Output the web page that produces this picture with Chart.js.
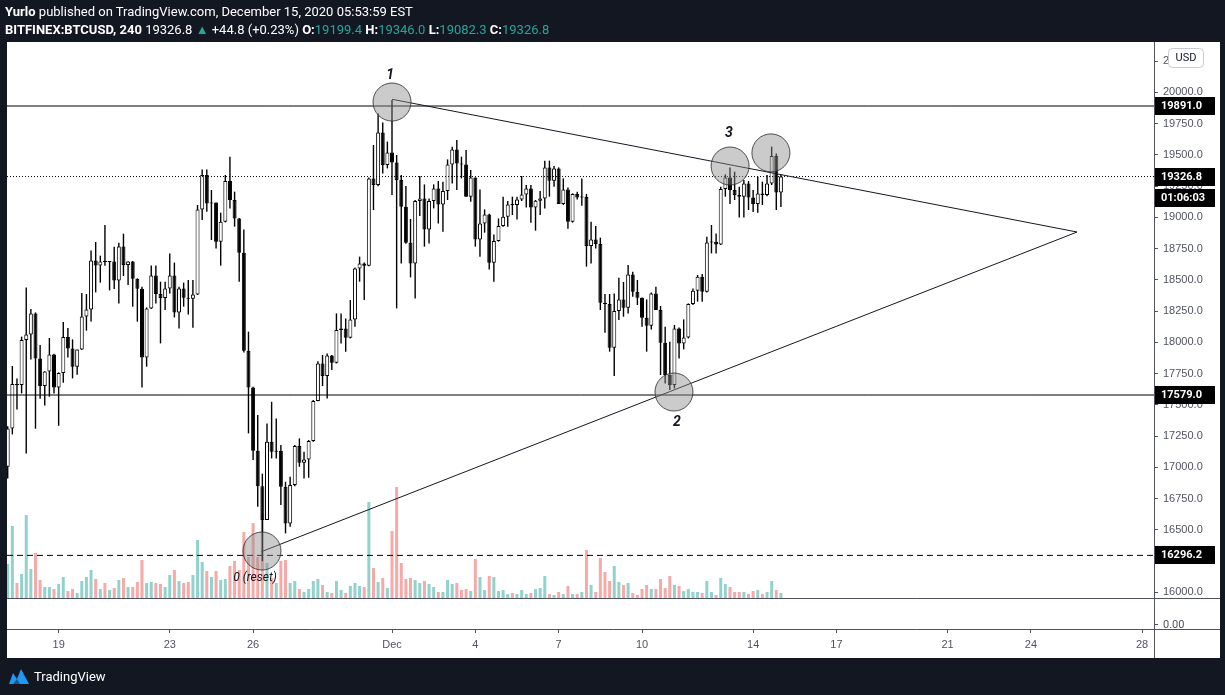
<!DOCTYPE html>
<html>
<head>
<meta charset="utf-8">
<script src="https://cdn.jsdelivr.net/npm/chart.js@4.4.0/dist/chart.umd.min.js"></script>
<style>
  html, body { margin: 0; padding: 0; background: #131722; }
  #wrap { position: relative; width: 1225px; height: 695px; overflow: hidden; }
  #hdr { position: absolute; left: 5px; top: 3px; color: #fff; font: 13px Roboto, sans-serif; line-height: 18px; white-space: nowrap; }
  #hdr .t { color: #26a69a; }
  #ftr { position: absolute; left: 8px; top: 667px; color: #fff; font: 13px Roboto, sans-serif; display: flex; align-items: center; gap: 4px; }
  canvas { position: absolute; left: 0; top: 0; }
</style>
</head>
<body>
<div id="wrap">
  <canvas id="c" width="1225" height="695"></canvas>
  <div id="hdr">
    <div><b>Yurlo</b> published on TradingView.com, December 15, 2020 05:53:59 EST</div>
    <div><b>BITFINEX:BTCUSD, 240</b> 19326.8 <span class="t">&#9650;</span> +44.8 (+0.23%) <b>O:</b><span class="t">19199.4</span> <b>H:</b><span class="t">19346.0</span> <b>L:</b><span class="t">19082.3</span> <b>C:</b><span class="t">19326.8</span></div>
  </div>
  <div id="ftr">
    <svg width="22" height="18" viewBox="0 0 22 18"><path d="M1 17 L5 6 L9 12 L13 2 L21 17 Z" fill="#2196f3"/><path d="M5 17 L9 12 L12 17 Z" fill="#131722" opacity="0.5"/></svg>
    <span>TradingView</span>
  </div>
</div>
<script>
// BITFINEX:BTCUSD 4h candles, Nov 17 - Dec 15 2020 (days counted from Nov 1)
const lastBarDay = 44;   // Dec 15 00:00
const barsPerDay = 6;

const opens = [17006,17312,17667,17660,18019,18064,18232,17872,17651,17768,
  17904,17640,17755,18043,17952,17806,17944,18208,18264,18656,
  18616,18648,18644,18648,18496,18768,18619,18648,18510,18430,
  17880,18272,18536,18387,18355,18432,18536,18240,18432,18358,
  18350,18384,19064,19339,19112,19120,18806,18966,19291,19139,
  18992,18718,17934,17640,17133,16850,16579,17206,17126,17131,
  16845,16552,16859,17171,17038,17064,17211,17531,17832,17731,
  17896,17838,18099,18112,18038,18184,18592,18632,18614,19312,
  19259,19680,19419,19520,19440,19299,19086,18798,18632,19131,
  19152,18904,19131,19232,19104,19211,19424,19544,19432,19424,
  19166,19320,18824,18952,19024,18638,18811,18931,19006,19104,
  19099,19144,19184,19232,19080,19134,19152,19400,19293,19392,
  19107,19224,18966,19187,19160,19164,18771,18824,18787,18318,
  18307,17958,18251,18344,18278,18544,18406,18358,18198,18134,
  18392,18260,17998,17739,17659,18112,17992,18040,18307,18414,
  18526,18406,18800,18806,18784,19227,19320,19219,19179,19166,
  19272,19160,19107,19192,19179,19272,19491,19199.4];
const highs = [17330,17811,17712,18046,18440,18267,18240,17979,17770,18035,
  17910,17760,18163,18115,18024,17944,18395,18387,18736,18803,
  18694,18939,18648,18766,18798,18870,18650,18652,18512,18446,
  18280,18616,18616,18486,18486,18712,18638,18446,18478,18499,
  18499,19099,19384,19384,19219,19120,19038,19339,19486,19206,
  18995,18904,18086,17645,17419,16950,17352,17525,17392,17179,
  16885,16925,17180,17232,17125,17219,17540,17850,17899,17912,
  17899,18232,18232,18192,18339,18600,18686,18640,19320,19579,
  19832,19760,19606,19939,19499,19339,19251,18987,19140,19331,
  19264,19152,19264,19291,19286,19464,19566,19619,19486,19539,
  19379,19320,19224,19064,19030,18864,18992,19166,19131,19166,
  19166,19331,19259,19259,19139,19211,19454,19454,19411,19400,
  19312,19240,19192,19206,19312,19187,18966,18931,18838,18387,
  18387,18392,18518,18483,18619,18566,18499,18360,18344,18400,
  18446,18291,18126,18006,18139,18120,18184,18312,18432,18539,
  18547,18846,18939,18872,19246,19344,19400,19366,19246,19299,
  19291,19219,19326,19286,19339,19566,19512,19346.0];
const lows = [16912,17264,17464,17592,17112,17864,17309,17549,17496,17566,
  17592,17333,17678,17880,17712,17742,17940,18094,18168,18400,
  18478,18614,18416,18427,18312,18531,18459,18286,18166,17640,
  17806,18268,18312,17992,18259,18392,18200,18112,18286,18224,
  18118,18380,18979,19046,18819,18752,18614,18960,19072,18926,
  18486,17920,17272,17059,16686,16250,16579,17072,17072,16699,
  16472,16525,16850,17005,16912,16917,17206,17530,17651,17552,
  17779,17832,17992,17926,18032,18126,18486,18339,18610,19059,
  19250,19352,19392,19179,18272,18632,18790,18520,18352,19011,
  18766,18792,19072,18952,18886,19139,19272,19219,19312,19166,
  19126,18766,18686,18878,18584,18486,18806,18926,18926,19019,
  18984,19131,19080,18958,18894,19019,19072,19166,19246,19107,
  19100,18910,18958,19144,19094,18606,18632,18752,18259,18078,
  17926,17731,18179,18206,18232,18366,18299,18126,17926,18104,
  18259,17739,17672,17619,17632,17872,17944,18032,18299,18326,
  18326,18400,18712,18712,18780,19166,19107,19139,19000,19000,
  19059,19043,19038,19099,19170,19259,19059,19082.3];
const closes = [17312,17667,17660,18019,18064,18232,17872,17651,17768,17904,
  17640,17755,18043,17952,17806,17944,18208,18264,18656,18616,
  18648,18644,18648,18496,18768,18619,18648,18510,18430,17880,
  18272,18536,18387,18355,18432,18536,18240,18432,18358,18350,
  18384,19064,19339,19112,19120,18806,18966,19291,19139,18992,
  18718,17934,17640,17133,16850,16579,17206,17126,17131,16845,
  16552,16859,17171,17038,17064,17211,17531,17832,17731,17896,
  17838,18099,18112,18038,18184,18592,18632,18614,19312,19259,
  19680,19419,19520,19440,19299,19086,18798,18632,19131,19152,
  18904,19131,19232,19104,19211,19424,19544,19432,19424,19166,
  19320,18824,18952,19024,18638,18811,18931,19006,19104,19099,
  19144,19184,19232,19080,19134,19152,19400,19293,19392,19107,
  19224,18966,19187,19160,19164,18771,18824,18787,18318,18307,
  17958,18251,18344,18278,18544,18406,18358,18198,18134,18392,
  18260,17998,17739,17659,18112,17992,18040,18307,18414,18526,
  18406,18800,18806,18784,19227,19320,19219,19179,19166,19272,
  19160,19107,19192,19179,19272,19491,19199.4,19326.8];
// volume, relative units
const volumes = [34,72,15,24,83,29,45,18,11,11,
  9,14,21,7,9,5,17,21,28,19,
  9,15,8,10,18,20,11,11,16,38,
  15,16,15,14,11,23,28,17,15,16,
  23,58,36,27,21,27,18,19,32,37,
  28,66,41,75,41,85,35,20,15,37,
  38,15,17,9,6,9,17,19,13,6,
  5,17,8,5,12,15,12,11,96,30,
  16,20,10,67,111,35,19,20,18,15,
  17,14,11,6,6,18,14,15,8,9,
  7,39,21,8,22,21,7,8,4,5,
  4,8,4,5,9,10,22,4,3,6,
  4,12,4,4,6,48,13,6,40,26,
  17,32,16,13,15,5,3,9,13,9,
  9,19,10,22,13,12,7,9,6,6,
  5,17,6,3,20,14,11,6,6,6,
  4,7,8,4,6,17,8,5];

// axis ticks
const tickDays = [18, 22, 25, 30, 33, 36, 39, 43, 46, 50, 53, 57];
const tickLabels = ['19', '23', '26', 'Dec', '4', '7', '10', '14', '17', '21', '24', '28'];
const priceTicks = [16000,16250,16500,16750,17000,17250,17500,17750,18000,18250,18500,18750,19000,19250,19500,19750,20000,20250];

// drawings
const levelHigh = 19891.0;
const levelLow = 17579.0;
const levelReset = 16296.2;
const lastPrice = 19326.8;
const countdown = '01:06:03';
const upperDays = [30.0, 54.66], upperPrices = [19945, 18883];
const lowerDays = [25.3, 54.66], lowerPrices = [16326, 18883];
const circleDays = [25.32, 30.0, 40.15, 42.17, 43.64];
const circlePrices = [16331, 19923, 17603, 19411, 19516];
const noteText = ['1', '3', '2', '0 (reset)'];
const noteDays = [29.93, 42.13, 40.26, 25.07];
const notePrices = [20139, 19675, 17363, 16115];

const xMin = 16.141, xMax = 57.43;
const times = opens.map((_, i) => lastBarDay - (opens.length - 1 - i) / barsPerDay);
const isUp = opens.map((o, i) => closes[i] >= o);

const pts = (ds, ps) => ds.map((d, i) => ({ x: d, y: ps[i] }));
const hline = (p) => [{ x: xMin, y: p }, { x: xMax, y: p }];

const frame = {
  id: 'frame',
  beforeDraw(chart) {
    const c = chart.ctx;
    c.save();
    c.fillStyle = '#ffffff';
    c.fillRect(7, 42, 1213, 616);
    c.restore();
  },
  afterDraw(chart) {
    const c = chart.ctx;
    const { x, y, yv } = chart.scales;
    const a = chart.chartArea;
    c.save();
    c.strokeStyle = '#50535e';
    c.lineWidth = 1;
    const seg = (x1, y1, x2, y2) => { c.beginPath(); c.moveTo(x1, y1); c.lineTo(x2, y2); c.stroke(); };
    const yz = Math.round(yv.getPixelForValue(0)) + 0.5;
    seg(7, yz, 1220, yz);
    seg(7, a.bottom + 0.5, 1220, a.bottom + 0.5);
    seg(a.right + 0.5, 42, a.right + 0.5, 658);
    c.fillStyle = '#50535e';
    c.font = '11px Roboto';
    c.textBaseline = 'middle';
    c.fillText('0.00', a.right + 9, a.bottom - 4);
    seg(a.right, a.bottom - 4.5, a.right + 4, a.bottom - 4.5);

    // notes
    c.fillStyle = '#131722';
    c.textAlign = 'center';
    noteText.forEach((t, i) => {
      c.font = t.length > 1 ? 'italic 12px Roboto' : 'italic bold 14px Roboto';
      c.fillText(t, x.getPixelForValue(noteDays[i]), y.getPixelForValue(notePrices[i]));
    });

    // price labels on the axis
    c.textAlign = 'left';
    c.font = 'bold 11px Roboto';
    const box = (py, txt) => {
      c.fillStyle = '#000000';
      c.fillRect(a.right + 1, Math.round(py) - 9, 60, 18);
      c.fillStyle = '#ffffff';
      c.fillText(txt, a.right + 7, Math.round(py) + 0.5);
    };
    [levelHigh, levelLow, levelReset, lastPrice].forEach(p => box(y.getPixelForValue(p), p.toFixed(1)));
    box(y.getPixelForValue(lastPrice) + 21, countdown);

    // currency badge
    c.fillStyle = '#ffffff';
    c.strokeStyle = '#c9cbd1';
    c.beginPath();
    c.roundRect(1168.5, 48.5, 35, 19, 4);
    c.fill(); c.stroke();
    c.fillStyle = '#131722';
    c.font = '11px Roboto';
    c.textAlign = 'center';
    c.fillText('USD', 1186, 58.5);
    c.restore();
  }
};

new Chart(document.getElementById('c'), {
  type: 'bar',
  data: {
    datasets: [
      {
        label: 'Volume', yAxisID: 'yv', order: 10, grouped: false,
        data: times.map((t, i) => ({ x: t, y: volumes[i] })),
        backgroundColor: isUp.map(u => u ? 'rgba(38,166,154,0.5)' : 'rgba(239,83,80,0.5)'),
        barThickness: 3, inflateAmount: 0
      },
      {
        label: 'Wicks', order: 8, grouped: false,
        data: times.map((t, i) => ({ x: t, y: [lows[i], highs[i]] })),
        backgroundColor: '#000000', barThickness: 1.4, inflateAmount: 0
      },
      {
        label: 'Bodies', order: 7, grouped: false,
        data: times.map((t, i) => ({ x: t, y: [opens[i], closes[i]] })),
        backgroundColor: isUp.map(u => u ? '#ffffff' : '#000000'),
        borderColor: '#000000', borderWidth: 1, borderSkipped: false,
        barThickness: 4, minBarLength: 1, inflateAmount: 0
      },
      { type: 'line', order: 5, data: hline(levelHigh), borderColor: '#000', borderWidth: 1, pointRadius: 0 },
      { type: 'line', order: 5, data: hline(levelLow), borderColor: '#000', borderWidth: 1, pointRadius: 0 },
      { type: 'line', order: 5, data: hline(levelReset), borderColor: '#000', borderWidth: 1, borderDash: [6, 4], pointRadius: 0 },
      { type: 'line', order: 5, data: hline(lastPrice), borderColor: '#000', borderWidth: 1, borderDash: [1, 2], pointRadius: 0 },
      { type: 'line', order: 4, data: pts(upperDays, upperPrices), borderColor: '#131722', borderWidth: 1, pointRadius: 0 },
      { type: 'line', order: 4, data: pts(lowerDays, lowerPrices), borderColor: '#131722', borderWidth: 1, pointRadius: 0 },
      {
        type: 'line', order: 3, showLine: false, data: pts(circleDays, circlePrices),
        pointRadius: 19, pointBackgroundColor: 'rgba(140,140,140,0.45)',
        pointBorderColor: 'rgba(50,50,50,0.85)', pointBorderWidth: 1
      }
    ]
  },
  options: {
    responsive: false,
    animation: false,
    events: [],
    layout: { autoPadding: false, padding: { left: 7, top: 42, right: 5, bottom: 37 } },
    plugins: { legend: { display: false }, tooltip: { enabled: false } },
    scales: {
      x: {
        type: 'linear', min: xMin, max: xMax, offset: false,
        afterBuildTicks: (axis) => { axis.ticks = tickDays.map(v => ({ value: v })); },
        afterFit: (axis) => { axis.height = 29; axis.paddingLeft = 0; axis.paddingRight = 0; },
        grid: { display: true, drawOnChartArea: false, tickLength: 4, color: '#50535e', offset: false },
        border: { display: false },
        ticks: {
          autoSkip: false, maxRotation: 0, padding: 5, color: '#50535e', font: { size: 11 },
          callback: (v) => tickLabels[tickDays.indexOf(v)]
        }
      },
      y: {
        position: 'right', min: 15707.2, max: 20403.2,
        afterBuildTicks: (axis) => { axis.ticks = priceTicks.map(v => ({ value: v })); },
        afterFit: (axis) => { axis.width = 66; axis.paddingTop = 0; axis.paddingBottom = 0; },
        grid: { display: true, drawOnChartArea: false, tickLength: 4, color: '#50535e' },
        border: { display: false },
        ticks: { padding: 5, color: '#50535e', font: { size: 11 }, callback: (v) => v.toFixed(1) }
      },
      yv: { display: false, position: 'right', min: -31, max: 556 }
    }
  },
  plugins: [frame]
});
</script>
</body>
</html>
